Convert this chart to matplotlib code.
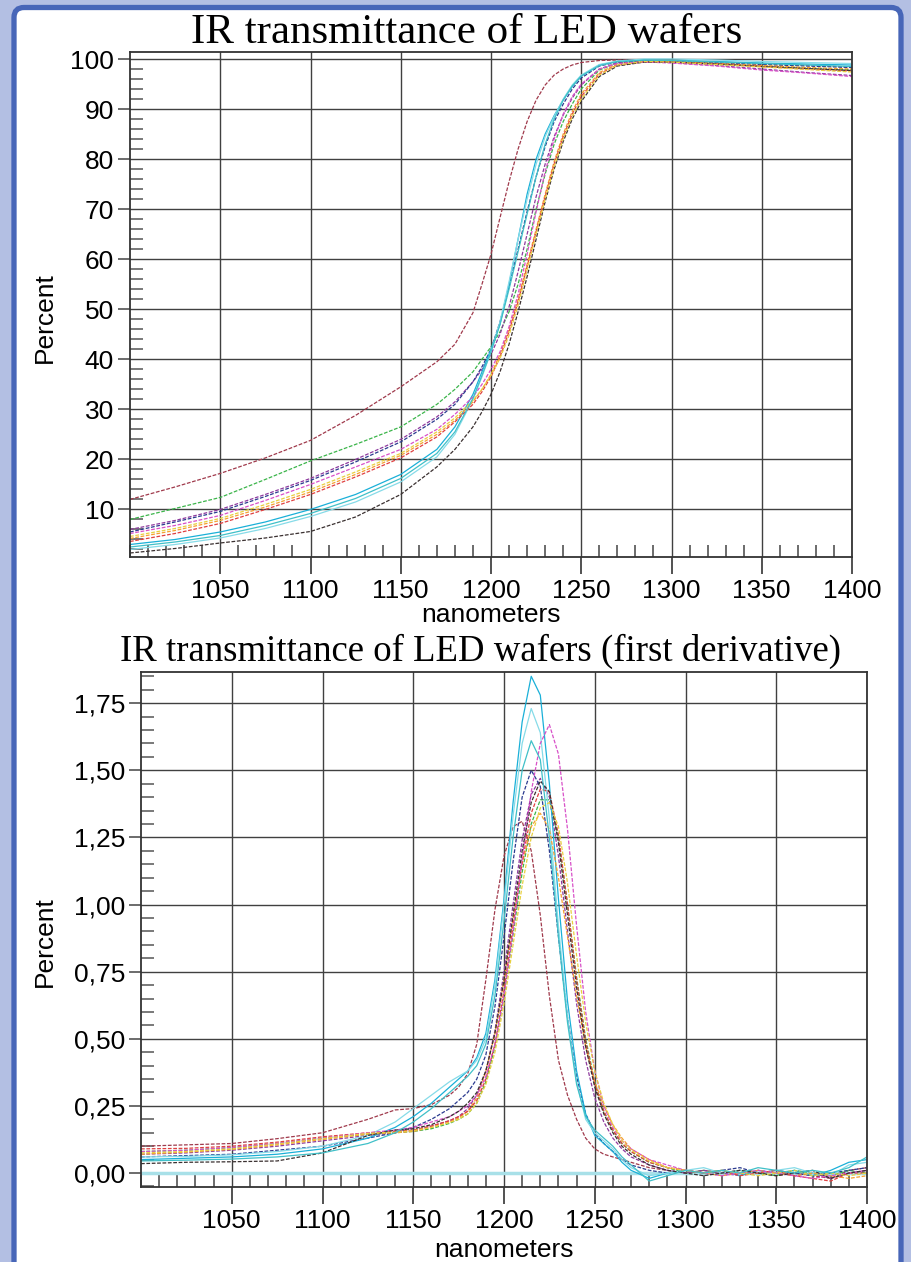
import numpy as np
import matplotlib
matplotlib.use("Agg")
import matplotlib.pyplot as plt
from matplotlib.patches import FancyBboxPatch
from matplotlib.ticker import MultipleLocator, FixedLocator, FuncFormatter

plt.rcParams['font.family'] = ['Liberation Sans', 'DejaVu Sans']

# wavelengths (nm) where the transmittance curves were read
nm_top = [1000, 1025, 1050, 1075, 1100, 1125, 1150, 1170, 1180, 1190, 1195, 1200, 1205,
          1210, 1215, 1220, 1225, 1230, 1235, 1240, 1245, 1250, 1260, 1270, 1285, 1300,
          1325, 1350, 1375, 1400]

# transmittance, percent
t_a = [12, 14.5, 17.2, 20.3, 23.8, 28.8, 34.5, 39.5, 43, 49.3, 55, 61, 68.3, 75.5, 82, 87.5,
       91.8, 94.8, 96.8, 98, 98.8, 99.3, 99.7, 99.8, 99.8, 99.6, 99.3, 99, 98.7, 98.4]
t_b = [8, 10.2, 12.4, 16, 19.7, 23, 26.5, 31, 34, 37.5, 40, 42.5, 45.5, 49.5, 55, 62, 70, 77,
       83, 87.5, 91, 94, 97.8, 99.2, 99.6, 99.5, 99.1, 98.6, 98.2, 97.8]
t_c = [6, 7.8, 10, 13, 16.2, 20, 24, 28.5, 31.5, 35.5, 38, 41, 45, 50.5, 57.5, 65, 72.5, 79,
       84.5, 88.8, 92.2, 94.8, 98, 99.2, 99.5, 99.3, 98.7, 98.0, 97.3, 96.7]
t_d = [5.5, 7.5, 9.6, 12.6, 15.8, 19.5, 23.5, 28, 31, 35.5, 38.5, 42, 47.5, 54.5, 62, 69.5,
       76.5, 82.5, 87.5, 91, 94, 96.2, 98.6, 99.4, 99.7, 99.6, 99.3, 98.9, 98.6, 98.3]
t_e = [3, 4, 5.5, 7.5, 10, 13, 17, 22, 26.5, 33, 37.5, 42, 47, 55, 64, 73, 80, 85, 88.7, 91.8,
       94.5, 96.6, 98.8, 99.5, 99.8, 99.7, 99.5, 99.2, 99.0, 98.8]
t_f = [2, 3, 4.3, 6.2, 8.6, 11.5, 15.5, 20.5, 25, 32, 36.5, 41.5, 47.5, 55.5, 64, 72, 79, 84.5,
       88.5, 92, 94.8, 96.8, 98.9, 99.6, 100, 100, 99.8, 99.5, 99.3, 99.1]
t_g = [4.2, 5.8, 7.8, 10.5, 13.5, 17, 20.8, 25, 27.8, 31.5, 34, 37, 41, 46, 52, 59, 66, 73,
       79.5, 85, 89.5, 93, 97.3, 99, 99.5, 99.5, 99.1, 98.7, 98.3, 98.0]
t_h = [3.6, 5.2, 7.2, 10, 13, 16.5, 20.3, 24.5, 27.5, 31, 33.5, 36.5, 40.5, 45.5, 51.5, 58.5,
       65.5, 72.5, 79, 84.5, 89, 92.5, 97, 98.8, 99.4, 99.4, 99.0, 98.5, 98.0, 97.6]
t_i = [5.2, 6.8, 8.8, 11.8, 15, 18.5, 22, 26, 29, 32.5, 35, 38, 41.5, 46.5, 53, 61, 69.5, 77.5,
       84, 89, 92.5, 95, 98, 99.1, 99.4, 99.2, 98.6, 97.8, 97.2, 96.5]
t_j = [1.3, 2.2, 3.3, 4.3, 5.6, 8.5, 13, 18.5, 22, 26.5, 29.5, 33, 37.5, 43, 49.5, 56.5, 64,
       71.5, 78, 83.5, 88, 91.5, 96.5, 98.6, 99.4, 99.4, 99.0, 98.5, 98.1, 97.7]
t_k = [4.6, 6.2, 8.2, 11, 14, 17.5, 21.2, 25.5, 28.3, 31.8, 34, 36.8, 40.2, 44.8, 50.8, 57.8,
       65, 72, 78.5, 84, 88.5, 92, 96.8, 98.8, 99.5, 99.4, 98.9, 98.4, 97.9, 97.4]
t_l = [2.5, 3.5, 4.8, 6.8, 9.2, 12.2, 16.2, 21.2, 25.5, 32.2, 36.8, 41.5, 47, 54, 61.5, 69,
       76.5, 83, 88, 91.8, 94.6, 96.6, 98.7, 99.5, 99.8, 99.7, 99.4, 99.1, 98.8, 98.5]

# wavelengths (nm) where the derivative curves were read
nm_bot = [1000, 1025, 1050, 1075, 1100, 1125, 1140, 1150, 1160, 1170, 1175, 1180, 1185, 1190,
          1195, 1200, 1205, 1210, 1215, 1220, 1225, 1230, 1235, 1240, 1245, 1250, 1255, 1260,
          1265, 1270, 1280, 1290, 1300, 1310, 1320, 1330, 1340, 1350, 1360, 1370, 1380, 1390,
          1400]

# first derivative, percent per nm
d_a = [0.100, 0.105, 0.110, 0.128, 0.150, 0.200, 0.235, 0.240, 0.255, 0.290, 0.320, 0.370,
       0.480, 0.720, 0.980, 1.180, 1.290, 1.310, 1.200, 0.960, 0.660, 0.420, 0.290, 0.200,
       0.130, 0.090, 0.070, 0.060, 0.050, 0.040, 0.020, 0.010, 0.000, 0.010, 0.000, 0.010,
       0.000, -0.010, 0.000, -0.010, -0.020, 0.010, 0.020]
d_b = [0.080, 0.085, 0.095, 0.110, 0.130, 0.145, 0.150, 0.155, 0.165, 0.185, 0.200, 0.220,
       0.260, 0.340, 0.470, 0.660, 0.890, 1.120, 1.300, 1.390, 1.390, 1.250, 1.000, 0.730,
       0.500, 0.340, 0.230, 0.160, 0.110, 0.080, 0.040, 0.020, 0.000, 0.010, 0.000, 0.010,
       0.000, -0.010, 0.010, 0.000, -0.010, 0.010, 0.000]
d_c = [0.070, 0.075, 0.085, 0.100, 0.120, 0.140, 0.150, 0.160, 0.175, 0.195, 0.210, 0.240,
       0.290, 0.380, 0.530, 0.750, 1.000, 1.240, 1.410, 1.470, 1.400, 1.180, 0.900, 0.630,
       0.420, 0.280, 0.190, 0.130, 0.090, 0.060, 0.030, 0.010, 0.000, 0.010, 0.000, -0.010,
       0.010, 0.000, -0.010, 0.000, -0.020, 0.000, 0.010]
d_d = [0.060, 0.065, 0.070, 0.085, 0.100, 0.130, 0.150, 0.170, 0.200, 0.240, 0.270, 0.300,
       0.350, 0.440, 0.620, 0.880, 1.160, 1.400, 1.500, 1.440, 1.200, 0.880, 0.580, 0.360,
       0.220, 0.150, 0.110, 0.080, 0.050, 0.030, 0.010, 0.000, 0.010, 0.000, 0.010, 0.020,
       0.000, 0.010, 0.000, -0.010, 0.000, 0.010, 0.020]
d_e = [0.050, 0.055, 0.060, 0.070, 0.090, 0.130, 0.170, 0.210, 0.260, 0.320, 0.350, 0.380,
       0.430, 0.520, 0.720, 1.020, 1.380, 1.680, 1.850, 1.780, 1.450, 1.020, 0.640, 0.380,
       0.220, 0.140, 0.110, 0.080, 0.040, 0.010, -0.020, 0.000, 0.010, 0.000, 0.010, -0.010,
       0.010, 0.000, 0.010, -0.010, 0.010, 0.040, 0.050]
d_f = [0.060, 0.062, 0.068, 0.080, 0.100, 0.140, 0.190, 0.240, 0.290, 0.340, 0.360, 0.380,
       0.420, 0.500, 0.700, 1.000, 1.330, 1.600, 1.730, 1.640, 1.320, 0.920, 0.580, 0.340,
       0.200, 0.150, 0.120, 0.090, 0.050, 0.020, -0.010, 0.000, 0.010, 0.020, 0.000, 0.010,
       0.000, 0.010, 0.020, 0.000, -0.010, 0.030, 0.040]
d_g = [0.070, 0.078, 0.088, 0.105, 0.125, 0.145, 0.150, 0.155, 0.170, 0.190, 0.205, 0.230,
       0.280, 0.380, 0.520, 0.720, 0.950, 1.150, 1.290, 1.340, 1.280, 1.100, 0.880, 0.660,
       0.470, 0.340, 0.250, 0.180, 0.130, 0.090, 0.050, 0.020, 0.010, 0.000, -0.010, 0.000,
       0.010, 0.000, -0.010, 0.000, -0.010, -0.020, -0.010]
d_h = [0.090, 0.092, 0.100, 0.115, 0.135, 0.150, 0.155, 0.160, 0.175, 0.195, 0.210, 0.230,
       0.270, 0.350, 0.480, 0.680, 0.920, 1.160, 1.340, 1.430, 1.420, 1.260, 1.000, 0.720,
       0.490, 0.330, 0.230, 0.160, 0.110, 0.080, 0.040, 0.020, 0.010, 0.000, 0.010, -0.010,
       0.000, 0.010, -0.010, -0.020, -0.030, 0.000, 0.000]
d_i = [0.080, 0.085, 0.095, 0.110, 0.130, 0.150, 0.160, 0.170, 0.190, 0.210, 0.230, 0.250,
       0.290, 0.360, 0.480, 0.660, 0.900, 1.170, 1.420, 1.600, 1.670, 1.560, 1.280, 0.920,
       0.600, 0.380, 0.250, 0.170, 0.120, 0.090, 0.050, 0.030, 0.010, 0.000, -0.010, 0.000,
       0.010, 0.000, -0.010, -0.020, -0.010, 0.000, 0.010]
d_j = [0.035, 0.040, 0.042, 0.045, 0.075, 0.140, 0.160, 0.165, 0.180, 0.210, 0.230, 0.260,
       0.300, 0.380, 0.520, 0.720, 0.960, 1.200, 1.380, 1.460, 1.420, 1.230, 0.960, 0.690,
       0.470, 0.320, 0.220, 0.150, 0.100, 0.070, 0.030, 0.010, 0.000, -0.010, 0.000, 0.010,
       0.000, -0.010, 0.000, 0.010, -0.020, 0.000, 0.010]
d_k = [0.075, 0.080, 0.090, 0.108, 0.128, 0.148, 0.152, 0.158, 0.170, 0.188, 0.200, 0.220,
       0.260, 0.330, 0.450, 0.630, 0.850, 1.070, 1.250, 1.360, 1.380, 1.290, 1.080, 0.810,
       0.560, 0.380, 0.260, 0.180, 0.120, 0.085, 0.045, 0.020, 0.010, 0.000, 0.010, 0.000,
       -0.010, 0.000, 0.010, -0.010, 0.000, -0.010, 0.000]
d_l = [0.045, 0.048, 0.052, 0.060, 0.075, 0.110, 0.150, 0.190, 0.240, 0.300, 0.330, 0.360,
       0.400, 0.480, 0.660, 0.940, 1.250, 1.500, 1.610, 1.540, 1.250, 0.880, 0.560, 0.330,
       0.210, 0.160, 0.130, 0.100, 0.060, 0.030, -0.030, -0.010, 0.010, 0.000, 0.010, 0.000,
       0.020, 0.010, 0.000, 0.010, 0.000, 0.020, 0.060]

top_series = [t_a, t_b, t_c, t_d, t_e, t_f, t_g, t_h, t_i, t_j, t_k, t_l]
bot_series = [d_a, d_b, d_c, d_d, d_e, d_f, d_g, d_h, d_i, d_j, d_k, d_l]
colors = ['#a03a4c', '#3bb54a', '#8e3a9e', '#2b3a8f', '#1ab0d8', '#86dbe8',
          '#f5a030', '#e04040', '#d850c8', '#3a3030', '#e8d040', '#40c0c8']
solid = {4, 5, 11}

x_ticks = [1050, 1100, 1150, 1200, 1250, 1300, 1350, 1400]


def style_axes(ax):
    ax.set_xlim(1000, 1400)
    ax.xaxis.set_major_locator(FixedLocator(x_ticks))
    ax.xaxis.set_minor_locator(MultipleLocator(10))
    ax.grid(True, which='major', color='#404040', lw=1.0)
    ax.set_axisbelow(True)
    for s in ax.spines.values():
        s.set_color('#333333')
        s.set_linewidth(1.3)
    ax.tick_params(axis='x', which='major', direction='out', length=12, width=1.2,
                   color='#333333', labelsize=19, pad=3.5)
    ax.tick_params(axis='x', which='minor', direction='in', length=9, width=1.1,
                   color='#444444')
    ax.tick_params(axis='y', which='major', direction='out', length=9, width=1.1,
                   color='#444444', labelsize=19, pad=2.5)
    ax.tick_params(axis='y', which='minor', direction='in', length=9, width=1.1,
                   color='#555555')
    ax.set_xlabel('nanometers', fontsize=19, va='baseline')
    ax.set_ylabel('Percent', fontsize=19, ha='center', va='center')


fig = plt.figure(figsize=(9.11, 12.62), dpi=100, facecolor='#b3bfe3')
frame = FancyBboxPatch((0.14, -0.3), 8.87, 12.845,
                       boxstyle='round,pad=0,rounding_size=0.1',
                       transform=fig.dpi_scale_trans, facecolor='white',
                       edgecolor='#4766b8', lw=3.8, zorder=-1)
fig.patches.append(frame)

# transmittance
ax1 = fig.add_axes([130 / 911, 1 - 557 / 1262, 722 / 911, 505 / 1262])
for vals, c, k in zip(top_series, colors, range(len(colors))):
    ls = '-' if k in solid else (0, (3, 1.3))
    ax1.plot(nm_top, vals, color=c, lw=0.9, ls=ls)
ax1.set_ylim(0.5, 101.4)
ax1.yaxis.set_major_locator(FixedLocator(list(range(10, 101, 10))))
ax1.yaxis.set_minor_locator(MultipleLocator(2))
style_axes(ax1)
ax1.xaxis.set_label_coords(0.5, -0.128)
ax1.yaxis.set_label_coords(-0.118, 0.475)

# first derivative
ax2 = fig.add_axes([141 / 911, 1 - 1187 / 1262, 726 / 911, 515 / 1262])
ax2.axhline(0, color='#a8e0e8', lw=2.5, zorder=1.5)
for vals, c, k in zip(bot_series, colors, range(len(colors))):
    ls = '-' if k in solid else (0, (3, 1.3))
    ax2.plot(nm_bot, vals, color=c, lw=0.9, ls=ls)
ax2.set_ylim(-0.052, 1.866)
ax2.yaxis.set_major_locator(FixedLocator([0, 0.25, 0.5, 0.75, 1.0, 1.25, 1.5, 1.75]))
ax2.yaxis.set_minor_locator(MultipleLocator(0.05))
ax2.yaxis.set_major_formatter(FuncFormatter(lambda v, p: f"{v:.2f}".replace('.', ',')))
style_axes(ax2)
ax2.xaxis.set_label_coords(0.5, -0.136)
ax2.yaxis.set_label_coords(-0.132, 0.476)

fig.text(467 / 911, 1 - 43 / 1262, 'IR transmittance of LED wafers',
         family='Liberation Serif', fontsize=31, ha='center', va='baseline')
fig.text(480 / 911, 1 - 661 / 1262, 'IR transmittance of LED wafers (first derivative)',
         family='Liberation Serif', fontsize=26.5, ha='center', va='baseline')

fig.savefig('out.png', dpi=100, facecolor=fig.get_facecolor())
